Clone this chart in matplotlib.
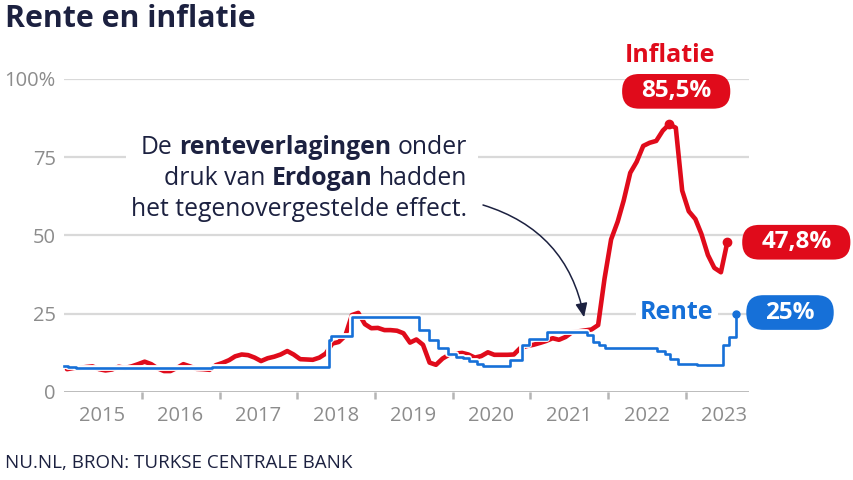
import numpy as np
import pandas as pd
import matplotlib
matplotlib.use("Agg")
import matplotlib.pyplot as plt
import matplotlib.dates as mdates
import matplotlib.patheffects as pe
from matplotlib.patches import Rectangle, BoxStyle

plt.rcParams['font.family'] = ['Open Sans', 'DejaVu Sans']

# data: annual CPI inflation (%), monthly from Jan 2015 to Jul 2023
inflatie = [
    7.2, 7.6, 7.6, 7.9, 8.1, 7.2, 6.8, 7.1, 8.0, 7.6, 8.1, 8.8,          # 2015
    9.6, 8.8, 7.5, 6.6, 6.6, 7.6, 8.8, 8.1, 7.3, 7.2, 7.0, 8.5,          # 2016
    9.2, 10.1, 11.3, 11.9, 11.7, 10.9, 9.8, 10.7, 11.2, 11.9, 13.0, 11.9,  # 2017
    10.4, 10.3, 10.2, 10.9, 12.2, 15.4, 15.9, 17.9, 24.5, 25.2, 21.6, 20.3,  # 2018
    20.4, 19.7, 19.7, 19.5, 18.7, 15.7, 16.7, 15.0, 9.3, 8.6, 10.6, 11.8,    # 2019
    12.2, 12.4, 11.9, 10.9, 11.4, 12.6, 11.8, 11.8, 11.8, 11.9, 14.0, 14.6,  # 2020
    15.0, 15.6, 16.2, 17.1, 16.6, 17.5, 19.0, 19.3, 19.6, 19.9, 21.3, 36.1,  # 2021
    48.7, 54.4, 61.1, 70.0, 73.5, 78.6, 79.6, 80.2, 83.5, 85.5, 84.4, 64.3,  # 2022
    57.7, 55.2, 50.5, 43.7, 39.6, 38.2, 47.8,                                # 2023
]
inflatie_datum = pd.date_range('2015-01-01', periods=len(inflatie), freq='MS') + pd.Timedelta(days=14)

# policy rate (%), dates on which it changed
rente_datum = pd.to_datetime([
    '2015-01-01', '2015-01-21', '2015-02-25', '2016-11-25', '2018-06-01',
    '2018-06-08', '2018-09-14', '2019-07-26', '2019-09-13', '2019-10-25',
    '2019-12-12', '2020-01-17', '2020-02-20', '2020-03-18', '2020-04-23',
    '2020-05-22', '2020-09-25', '2020-11-20', '2020-12-25', '2021-03-19',
    '2021-09-24', '2021-10-22', '2021-11-19', '2021-12-17', '2022-08-19',
    '2022-09-23', '2022-10-21', '2022-11-25', '2023-02-24', '2023-06-23',
    '2023-07-21', '2023-08-25',
])
rente = [
    8.25, 7.75, 7.5, 8.0, 16.5,
    17.75, 24.0, 19.75, 16.5, 14.0,
    12.0, 11.25, 10.75, 9.75, 8.75,
    8.25, 10.25, 15.0, 17.0, 19.0,
    18.0, 16.0, 15.0, 14.0, 13.0,
    12.0, 10.5, 9.0, 8.5, 15.0,
    17.5, 25.0,
]

jaren = list(range(2015, 2024))
y_ticks = [0, 25, 50, 75, 100]
y_labels = ['0', '25', '50', '75', '100%']

ROOD = '#e00b1b'
BLAUW = '#1670d8'
NAVY = '#1c2140'
GRIJS = '#8c8c8c'

fig = plt.figure(figsize=(8.54, 4.8), dpi=100)
ax = fig.add_axes([64 / 854, 1 - 391.7 / 480, 685 / 854, (391.7 - 79) / 480])

ax.set_xlim(mdates.date2num(pd.Timestamp('2015-01-01')), mdates.date2num(pd.Timestamp('2023-10-25')))
ax.set_ylim(0, 100)
for s in ax.spines.values():
    s.set_visible(False)

# grid
for v in y_ticks[1:]:
    ax.axhline(v, color='#d9d9d9', lw=1.6, zorder=1)
ax.axhline(0, color='#b5b5b5', lw=2.0, zorder=1)

ax.set_yticks(y_ticks)
ax.set_yticklabels(y_labels)
ax.tick_params(axis='y', length=0, pad=6, labelsize=14.5, labelcolor=GRIJS)

ax.set_xticks([mdates.date2num(pd.Timestamp(f'{j}-01-01')) for j in jaren[1:]])
ax.set_xticklabels([])
ax.set_xticks([mdates.date2num(pd.Timestamp(f'{j}-07-01')) for j in jaren], minor=True)
ax.set_xticklabels([str(j) for j in jaren], minor=True)
ax.tick_params(axis='x', which='major', length=5, width=1.8, color='#b5b5b5', direction='out')
ax.tick_params(axis='x', which='minor', length=0, pad=10.5, labelsize=14.5, labelcolor=GRIJS)

# lines
xd = mdates.date2num(inflatie_datum)
ax.plot(xd, inflatie, color=ROOD, lw=3.3, solid_joinstyle='round', solid_capstyle='round', zorder=3, clip_on=False)
xr = mdates.date2num(rente_datum)
ax.plot(xr, rente, color=BLAUW, lw=1.9, drawstyle='steps-post', zorder=4, clip_on=False,
        path_effects=[pe.Stroke(linewidth=4.2, foreground='white'), pe.Normal()])

# end / peak markers
i_piek = int(np.argmax(inflatie))
ax.plot(xd[i_piek], inflatie[i_piek], 'o', color=ROOD, ms=6, zorder=5)
ax.plot(xd[-1], inflatie[-1], 'o', color=ROOD, ms=6, zorder=5)
ax.plot(xr[-1], rente[-1], 'o', color=BLAUW, ms=5, zorder=5)


def pil_vorm(x0, y0, w, h, mutation_size):
    # rounded label box with more room left/right than above/below
    px, py = 0.78 * mutation_size, 0.22 * mutation_size
    return BoxStyle.Round(pad=0, rounding_size=0.7)(x0 - px, y0 - py, w + 2 * px, h + 2 * py, mutation_size)


def pill(x, y, txt, kleur, dx, dy):
    ax.annotate(txt, xy=(x, y), xytext=(dx, dy), textcoords='offset pixels',
                ha='center', va='center', color='white', fontsize=17.5, fontweight='bold',
                bbox=dict(boxstyle=pil_vorm, fc=kleur, ec='none'),
                zorder=6, annotation_clip=False)


fmt = lambda v: f'{v:.1f}'.replace('.', ',') + '%'
pill(xd[i_piek], inflatie[i_piek], fmt(inflatie[i_piek]), ROOD, 7, 33)
pill(xd[-1], inflatie[-1], fmt(inflatie[-1]), ROOD, 69, 0)
pill(xr[-1], rente[-1], f'{rente[-1]:.0f}%', BLAUW, 54, 1)

ax.annotate('Inflatie', xy=(xd[i_piek], inflatie[i_piek]), xytext=(1, 69), textcoords='offset pixels',
            ha='center', va='center', color=ROOD, fontsize=18, fontweight='bold', annotation_clip=False)
ax.annotate('Rente', xy=(xr[-1], rente[-1]), xytext=(-59, 1), textcoords='offset pixels',
            ha='center', va='center', color=BLAUW, fontsize=18, fontweight='bold', zorder=6,
            bbox=dict(boxstyle='square,pad=0.15', fc='white', ec='none'))

# annotation text with mixed weights, right aligned
ax.add_patch(Rectangle((126 / 854, 1 - 224 / 480), 352 / 854, 96 / 480, transform=fig.transFigure,
                       fc='white', ec='none', zorder=1.5))
regels = [
    [('De', 'normal'), ('renteverlagingen', 'bold'), ('onder', 'normal')],
    [('druk van', 'normal'), ('Erdogan', 'bold'), ('hadden', 'normal')],
    [('het tegenovergestelde effect.', 'normal')],
]
for k, regel in enumerate(regels):
    yb = 1 - (154 + 31 * k) / 480
    t = ax.annotate(regel[-1][0], xy=(467 / 854, yb), xycoords='figure fraction', ha='right', va='baseline',
                    fontsize=17.8, fontweight=regel[-1][1], color=NAVY, zorder=3)
    for tekst, gewicht in reversed(regel[:-1]):
        t = ax.annotate(tekst, xy=(0, 0), xycoords=t, xytext=(-6.4, 0), textcoords='offset pixels',
                        ha='right', va='bottom', fontsize=17.8, fontweight=gewicht, color=NAVY, zorder=3)

ax.annotate('', xy=(mdates.date2num(pd.Timestamp('2021-09-10')), 23.8), xycoords='data',
            xytext=(483 / 854, 1 - 205 / 480), textcoords='figure fraction',
            arrowprops=dict(arrowstyle='-|>,head_length=0.7,head_width=0.3', color=NAVY, lw=1.1,
                            connectionstyle='arc3,rad=-0.3', shrinkA=0, shrinkB=0, mutation_scale=12),
            zorder=3, annotation_clip=False)

fig.text(5 / 854, 1 - 27 / 480, 'Rente en inflatie', fontsize=21.8, fontweight='bold', color=NAVY, va='baseline')
fig.text(5 / 854, 1 - 468 / 480, 'NU.NL, BRON: TURKSE CENTRALE BANK', fontsize=13.5, color=NAVY, va='baseline')

fig.savefig('out.png', dpi=100)
